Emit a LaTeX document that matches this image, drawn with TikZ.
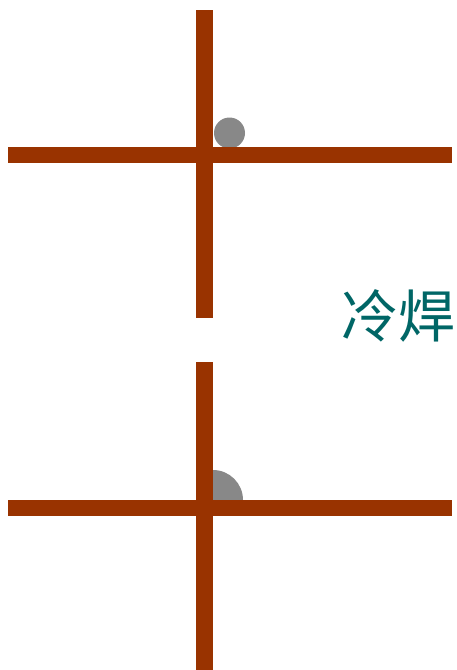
\documentclass[tikz,border=0pt]{standalone}
\usepackage{fontspec}
\newfontfamily\cjk{Noto Sans CJK SC}
\definecolor{barbrown}{HTML}{993300}
\definecolor{blobgray}{HTML}{888888}
\definecolor{labelteal}{HTML}{006666}
\tikzset{bar/.style={fill=barbrown}, blob/.style={fill=blobgray}}

\begin{document}
\begin{tikzpicture}[x=1pt,y=-1pt]
\useasboundingbox (0,0) rectangle (456,670);
% top cross with ball
\fill[blob] (229.5,133) circle (15.5);
\fill[bar] (196,10) rectangle (213,318);
\fill[bar] (8,147) rectangle (452,163);
% bottom cross, ball flattened into the corner
\fill[blob] (213,500) -- ++(30,0) arc[start angle=0,end angle=-90,radius=30] -- cycle;
\fill[bar] (196,362) rectangle (213,670);
\fill[bar] (8,500) rectangle (452,516);
\node[text=labelteal,font=\cjk\fontsize{57}{62}\selectfont,inner sep=0pt] (label) at (398.5,316) {冷焊};
\end{tikzpicture}
\end{document}
